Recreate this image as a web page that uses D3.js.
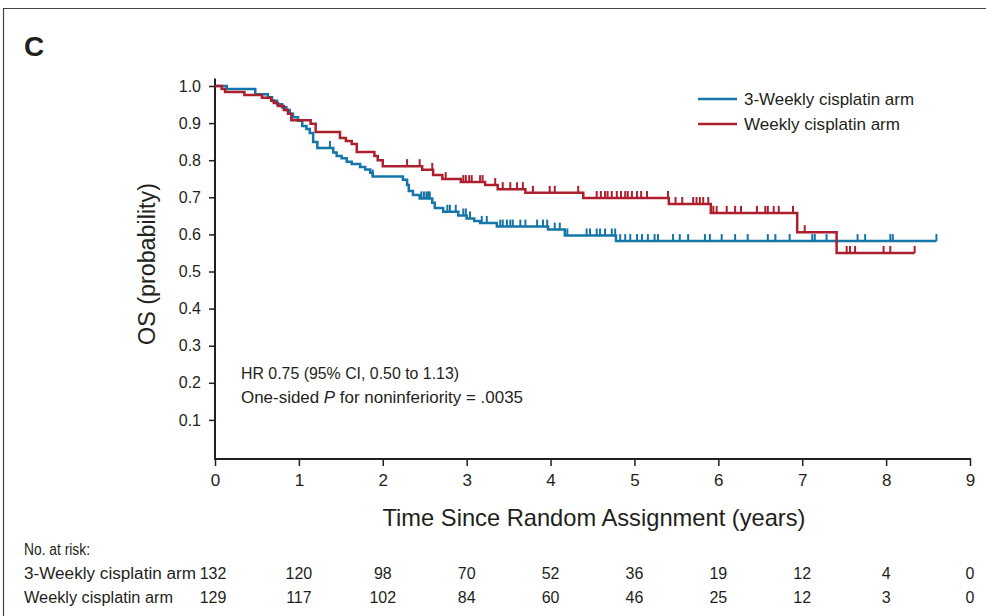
<!DOCTYPE html>
<html>
<head>
<meta charset="utf-8">
<script src="https://cdn.jsdelivr.net/npm/d3@7"></script>
<style>
  html, body { margin: 0; padding: 0; background: #fff; }
  svg text { font-family: "Liberation Sans", Arial, Helvetica, sans-serif; fill: #231f20; }
</style>
</head>
<body>
<svg id="chart" width="986" height="616"></svg>
<script>
// ---------------- DATA ----------------
const timeTicks = [0, 1, 2, 3, 4, 5, 6, 7, 8, 9];
const yTicks = [0.1, 0.2, 0.3, 0.4, 0.5, 0.6, 0.7, 0.8, 0.9, 1.0];
const armNames = ["3-Weekly cisplatin arm", "Weekly cisplatin arm"];

// 3-weekly arm (blue): step times and survival after each step
const blueTimes = [0, 0.14, 0.48, 0.63, 0.68, 0.74, 0.80, 0.85, 0.89, 0.93, 0.99, 1.04, 1.09, 1.13, 1.17, 1.22,
  1.41, 1.45, 1.51, 1.57, 1.63, 1.73, 1.79, 1.85, 1.88, 2.24, 2.29, 2.31, 2.36, 2.44, 2.59, 2.62, 2.72,
  2.90, 3.00, 3.09, 3.16, 3.36, 3.97, 4.17, 4.78];
const blueSurv = [1.0, 0.992, 0.978, 0.970, 0.960, 0.951, 0.943, 0.935, 0.925, 0.916, 0.906, 0.892, 0.884, 0.873, 0.849, 0.833,
  0.821, 0.811, 0.805, 0.796, 0.790, 0.782, 0.775, 0.766, 0.756, 0.747, 0.733, 0.717, 0.706, 0.697, 0.685, 0.671, 0.661,
  0.651, 0.643, 0.636, 0.631, 0.621, 0.613, 0.597, 0.582];
const blueEnd = 8.6;
const blueCensor = [1.37, 1.88, 2.46, 2.49, 2.52, 2.54, 2.56, 2.77, 2.80, 2.87, 2.96, 2.99, 3.04, 3.18, 3.24,
  3.40, 3.43, 3.48, 3.52, 3.55, 3.64, 3.70, 3.84, 3.91, 3.96, 4.05, 4.11, 4.20, 4.43, 4.47, 4.55, 4.59, 4.65,
  4.73, 4.77, 4.83, 4.89, 4.95, 5.03, 5.09, 5.16, 5.24, 5.28, 5.46, 5.54, 5.64, 5.84, 5.90, 6.04, 6.20, 6.35,
  6.59, 6.68, 6.85, 7.12, 7.15, 7.29, 7.66, 7.75, 8.05, 8.08, 8.6];

// Weekly arm (red)
const redTimes = [0, 0.08, 0.12, 0.35, 0.56, 0.67, 0.70, 0.75, 0.82, 0.87, 0.91, 1.14, 1.20, 1.49, 1.56, 1.63,
  1.69, 1.90, 1.94, 2.00, 2.47, 2.60, 2.71, 2.93, 3.22, 3.37, 3.70, 4.39, 5.41, 5.91, 6.94, 7.41];
const redSurv = [1.0, 0.992, 0.984, 0.976, 0.968, 0.960, 0.954, 0.946, 0.935, 0.925, 0.908, 0.898, 0.876, 0.860, 0.852, 0.844,
  0.822, 0.811, 0.800, 0.784, 0.774, 0.760, 0.749, 0.741, 0.733, 0.722, 0.712, 0.698, 0.682, 0.658, 0.606, 0.550];
const redEnd = 8.34;
const redCensor = [2.29, 2.44, 2.59, 2.75, 2.96, 2.99, 3.03, 3.06, 3.16, 3.19, 3.34, 3.43, 3.52, 3.60, 3.67, 3.79,
  3.99, 4.05, 4.33, 4.55, 4.60, 4.65, 4.68, 4.73, 4.79, 4.84, 4.89, 4.92, 4.97, 5.03, 5.08, 5.15, 5.40, 5.49,
  5.57, 5.70, 5.74, 5.78, 5.82, 5.88, 5.94, 5.98, 6.10, 6.20, 6.27, 6.46, 6.56, 6.59, 6.66, 6.72, 6.89, 7.03,
  7.53, 7.57, 7.63, 7.97, 8.05, 8.34];

const riskBlue = [132, 120, 98, 70, 52, 36, 19, 12, 4, 0];
const riskRed = [129, 117, 102, 84, 60, 46, 25, 12, 3, 0];

const hrLine = "HR 0.75 (95% CI, 0.50 to 1.13)";

// ---------------- DRAW ----------------
const BLUE = "#1475a8", RED = "#ae1f2e", INK = "#231f20";
const svg = d3.select("#chart");

// frame
svg.append("line").attr("x1", 3).attr("x2", 986).attr("y1", 8.5).attr("y2", 8.5).attr("stroke", "#444").attr("stroke-width", 1.2);
svg.append("line").attr("x1", 3.5).attr("x2", 3.5).attr("y1", 8).attr("y2", 616).attr("stroke", "#444").attr("stroke-width", 1.2);

svg.append("text").attr("x", 24).attr("y", 56).attr("font-size", 28).attr("font-weight", "bold").text("C");

const x = d3.scaleLinear().domain([0, 9]).range([215, 970]);
const y = d3.scaleLinear().domain([0, 1]).range([457, 86]);

// axes
const xAxis = d3.axisBottom(x).tickValues(timeTicks).tickFormat(d3.format("d")).tickSize(7).tickPadding(8).tickSizeOuter(0);
const gx = svg.append("g").attr("transform", "translate(0,459)").call(xAxis);
gx.select(".domain").remove();
gx.selectAll("line").attr("stroke", INK).attr("stroke-width", 1.5);
gx.selectAll("text").attr("font-size", 17).attr("fill", INK).style("font-family", "'Liberation Sans', Arial, sans-serif");
svg.append("line").attr("x1", 214).attr("x2", 971).attr("y1", 459).attr("y2", 459).attr("stroke", INK).attr("stroke-width", 2);

const yAxis = d3.axisLeft(y).tickValues(yTicks).tickFormat(d3.format(".1f")).tickSize(6).tickPadding(8).tickSizeOuter(0);
const gy = svg.append("g").attr("transform", "translate(215,0)").call(yAxis);
gy.select(".domain").remove();
gy.selectAll("line").attr("stroke", INK).attr("stroke-width", 1.5);
gy.selectAll("text").attr("font-size", 16).attr("fill", INK).style("font-family", "'Liberation Sans', Arial, sans-serif");
svg.append("line").attr("x1", 215).attr("x2", 215).attr("y1", y(1.02)).attr("y2", 460).attr("stroke", INK).attr("stroke-width", 2);

// axis titles
svg.append("text").attr("x", 594).attr("y", 526).attr("text-anchor", "middle").attr("font-size", 24)
  .attr("textLength", 423).attr("lengthAdjust", "spacingAndGlyphs").text("Time Since Random Assignment (years)");
svg.append("text").attr("transform", "translate(155,264) rotate(-90)").attr("text-anchor", "middle").attr("font-size", 23)
  .attr("textLength", 162).attr("lengthAdjust", "spacingAndGlyphs").text("OS (probability)");

// curves
function stepPoints(times, surv, end) {
  const pts = times.map((t, i) => [t, surv[i]]);
  pts.push([end, surv[surv.length - 1]]);
  return pts;
}
function survAt(times, surv, t) {
  let s = surv[0];
  for (let i = 0; i < times.length; i++) { if (times[i] <= t + 1e-9) s = surv[i]; }
  return s;
}
const line = d3.line().x(d => x(d[0])).y(d => y(d[1])).curve(d3.curveStepAfter);

const arms = [
  { times: blueTimes, surv: blueSurv, end: blueEnd, censor: blueCensor, color: BLUE },
  { times: redTimes, surv: redSurv, end: redEnd, censor: redCensor, color: RED }
];
arms.forEach(a => {
  svg.append("path").datum(stepPoints(a.times, a.surv, a.end))
    .attr("d", line).attr("fill", "none").attr("stroke", a.color).attr("stroke-width", 2.5);
  svg.append("g").selectAll("line").data(a.censor).join("line")
    .attr("x1", d => x(d)).attr("x2", d => x(d))
    .attr("y1", d => y(survAt(a.times, a.surv, d)))
    .attr("y2", d => y(survAt(a.times, a.surv, d)) - 7)
    .attr("stroke", a.color).attr("stroke-width", 2);
});

// legend
[BLUE, RED].forEach((c, i) => {
  const ly = 99 + i * 25;
  svg.append("line").attr("x1", 698).attr("x2", 737).attr("y1", ly).attr("y2", ly).attr("stroke", c).attr("stroke-width", 2.5);
  svg.append("text").attr("x", 744).attr("y", ly + 6).attr("font-size", 17)
    .attr("textLength", i === 0 ? 170 : 156).attr("lengthAdjust", "spacingAndGlyphs").text(armNames[i]);
});

// HR annotation
svg.append("text").attr("x", 241).attr("y", 379).attr("font-size", 16)
  .attr("textLength", 218).attr("lengthAdjust", "spacingAndGlyphs").text(hrLine);
const t2 = svg.append("text").attr("x", 241).attr("y", 403).attr("font-size", 16)
  .attr("textLength", 282).attr("lengthAdjust", "spacingAndGlyphs");
t2.append("tspan").text("One-sided ");
t2.append("tspan").attr("font-style", "italic").text("P");
t2.append("tspan").text(" for noninferiority = .0035");

// risk table
svg.append("text").attr("x", 24).attr("y", 555).attr("font-size", 16)
  .attr("textLength", 66).attr("lengthAdjust", "spacingAndGlyphs").text("No. at risk:");
[[armNames[0], riskBlue, 579, 172], [armNames[1], riskRed, 603, 149]].forEach(([name, vals, by, w]) => {
  svg.append("text").attr("x", 24).attr("y", by).attr("font-size", 16)
    .attr("textLength", w).attr("lengthAdjust", "spacingAndGlyphs").text(name);
  svg.append("g").selectAll("text").data(vals).join("text")
    .attr("x", (d, i) => x(timeTicks[i]) - (i === 0 ? 2 : 0)).attr("y", by)
    .attr("text-anchor", "middle").attr("font-size", 16).text(d => d);
});
</script>
</body>
</html>
